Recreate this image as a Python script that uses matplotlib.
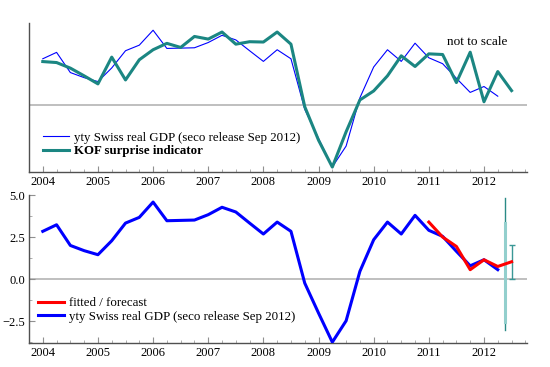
import matplotlib
matplotlib.use("Agg")
import matplotlib.pyplot as plt
from matplotlib.ticker import MultipleLocator, FixedLocator
import numpy as np

plt.rcParams['font.family'] = ['Liberation Serif', 'DejaVu Serif']

# ---- data ----
start_year = 2004.0
gdp = [2.84, 3.23, 2.00, 1.69, 1.45, 2.28, 3.33, 3.67, 4.58, 3.47, 3.49, 3.51,
       3.83, 4.27, 3.99, 3.33, 2.68, 3.39, 2.84, -0.24, -2.02, -3.75, -2.48, 0.46,
       2.34, 3.39, 2.68, 3.79, 2.90, 2.54, 1.65, 0.79, 1.15, 0.56]
kof = [2.67, 2.61, 2.27, 1.80, 1.31, 2.94, 1.55, 2.78, 3.39, 3.78, 3.53, 4.20,
       4.04, 4.47, 3.73, 3.88, 3.86, 4.47, 3.73, -0.08, -2.12, -3.76, -1.61, 0.33,
       0.88, 1.80, 3.02, 2.37, 3.14, 3.10, 1.39, 3.24, 0.22, 2.06, 0.90]
fit_start = 2011.0
fitted = [3.39, 2.50, 1.94, 0.56, 1.15, 0.75, 1.03]
year_ticks = [2004, 2005, 2006, 2007, 2008, 2009, 2010, 2011, 2012]
y_ticks = [-2.5, 0.0, 2.5, 5.0]
band_x = 2012.38
band_outer = [-3.0, 4.82]
band_inner = [-2.55, 3.33]
fc_x = 2012.5
fc_center = 1.0
fc_err = 1.0

t_gdp = start_year + 0.25 * np.arange(len(gdp))
t_kof = start_year + 0.25 * np.arange(len(kof))
t_fit = fit_start + 0.25 * np.arange(len(fitted))

W, H = 550, 367
fig = plt.figure(figsize=(W / 100, H / 100), dpi=100)

def pax(l, t, r, b):
    return fig.add_axes([l / W, 1 - b / H, (r - l) / W, (b - t) / H])

spine_col = '#505050'
blue = '#0000ff'
teal = '#1b8682'

def style(ax):
    for s in ['top', 'right']:
        ax.spines[s].set_visible(False)
    for s in ['left', 'bottom']:
        ax.spines[s].set_color(spine_col)
        ax.spines[s].set_linewidth(1.0)
    ax.set_xlim(2003.75, 2012.78)
    ax.xaxis.set_major_locator(FixedLocator(year_ticks))
    ax.set_xticklabels([str(y) for y in year_ticks])
    ax.xaxis.set_minor_locator(MultipleLocator(0.25))
    ax.tick_params(axis='both', which='major', direction='in', length=4,
                   color='#909090', labelsize=9, pad=3, labelcolor='black')
    ax.tick_params(axis='both', which='minor', direction='in', length=2.5,
                   color='#a0a0a0')
    ax.axhline(0, color='#b4b4b4', lw=1.2, zorder=1)

leg_kw = dict(loc='upper left', frameon=False, fontsize=9.3,
              handlelength=2.0, handletextpad=0.4, labelspacing=0.12,
              borderpad=0, borderaxespad=0)

# ---- top panel ----
ax1 = pax(29, 23, 527, 172)
style(ax1)
ax1.set_ylim(-4.06, 5.02)
ax1.set_yticks([])
ax1.plot(t_gdp, gdp, color=blue, lw=0.8, label='yty Swiss real GDP (seco release Sep 2012)', zorder=3)
ax1.plot(t_kof, kof, color=teal, lw=2.2, label='KOF surprise indicator', zorder=4)
ax1.text(0.839, 0.872, 'not to scale', transform=ax1.transAxes, fontsize=9.5,
         ha='left', va='center')
leg1 = ax1.legend(bbox_to_anchor=(43 / W, 1 - 131.5 / H),
                  bbox_transform=fig.transFigure, **leg_kw)
leg1.get_texts()[1].set_fontweight('bold')

# ---- bottom panel ----
ax2 = pax(29, 195, 527, 343)
style(ax2)
ax2.set_ylim(-3.8, 5.0)
ax2.set_yticks(y_ticks)
ax2.set_yticklabels(['\u22122.5', '0.0', '2.5', '5.0'])
ax2.yaxis.set_minor_locator(MultipleLocator(1.25))
ax2.plot([band_x, band_x], band_outer, color='#2a8a86', lw=1.0, zorder=2)
ax2.plot([band_x, band_x], band_inner, color='#93cfcd', lw=2.2, zorder=2)
ax2.errorbar([fc_x], [fc_center], yerr=[fc_err], color='#3a9896', lw=1.0,
             capsize=2.5, capthick=1.0, fmt='none', zorder=2)
ax2.plot(t_fit, fitted, color='#ff0000', lw=2.2, label='fitted / forecast', zorder=4)
ax2.plot(t_gdp, gdp, color=blue, lw=2.2, label='yty Swiss real GDP (seco release Sep 2012)', zorder=3)
ax2.legend(bbox_to_anchor=(38 / W, 1 - 297 / H),
           bbox_transform=fig.transFigure, **leg_kw)

fig.savefig('out.png', dpi=100)
